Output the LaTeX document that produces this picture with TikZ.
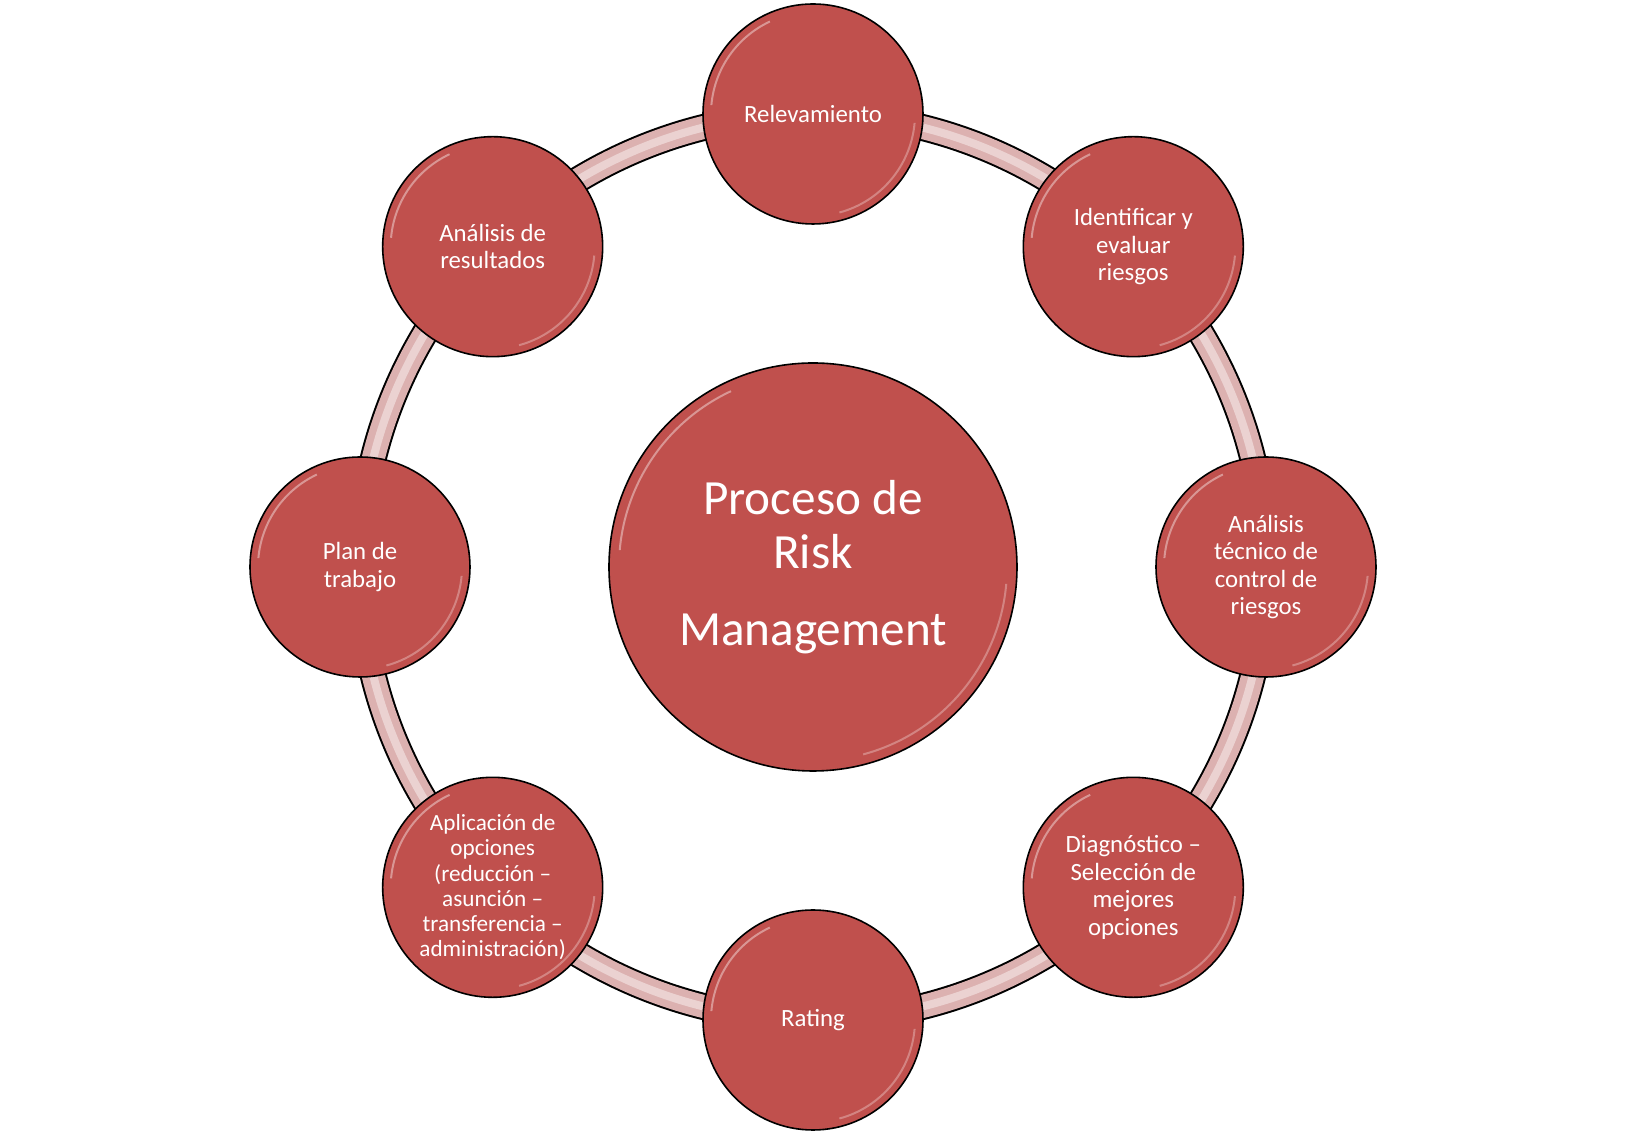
\documentclass[tikz,border=0pt]{standalone}
\usepackage{fontspec}
\setmainfont{Carlito}
\usetikzlibrary{positioning}
\pgfdeclarelayer{background}
\pgfsetlayers{background,main}
\definecolor{riskred}{HTML}{C0504D}
\definecolor{ringpink}{HTML}{DCB1B0}
\definecolor{ringlight}{HTML}{EBD2D1}

\begin{document}
\begin{tikzpicture}[x=0.5pt,y=0.5pt,%
	gloss/.style={path picture={%
		\draw[white,opacity=.4,line width=1pt] ([shift={(115:#1)}]path picture bounding box.center) arc[start angle=115,end angle=175,radius=#1];
		\draw[white,opacity=.3,line width=1pt] ([shift={(-75:#1)}]path picture bounding box.center) arc[start angle=-75,end angle=-5,radius=#1];}},
	stage/.style={circle,draw=black,line width=0.8pt,fill=riskred,text=white,minimum size=110pt,inner sep=0pt,align=center,gloss=51pt},
	core/.style={stage,minimum size=204pt,gloss=97pt,font=\fontsize{24.6}{27.2}\selectfont},
	ring/.style={line width=13.5pt,black},
	ringfill/.style={line width=11.5pt,ringpink},
	ringglow/.style={line width=4pt,ringlight}]

	\node[core] (core) at (0,0) {Proceso de\\Risk\\[11pt]Management};

	\foreach \fs/\lh/\txt [count=\i] in {%
	   12.4/13.8/Relevamiento,%
	   12.4/13.8/{Identificar y\\evaluar\\riesgos},%
	   12.4/13.8/{Análisis\\técnico de\\control de\\riesgos},%
	   12.4/13.8/{Diagnóstico --\\Selección de\\mejores\\opciones},%
	   12.4/13.8/Rating,%
	   11.6/12.6/{Aplicación de\\opciones\\(reducción --\\asunción --\\transferencia --\\administración)},%
	   12.4/13.8/{Plan de\\trabajo},%
	   12.4/13.8/{Análisis de\\resultados}%
	   } { \node[stage,font=\fontsize{\fs}{\lh}\selectfont] (s\i) at ({135-45*\i}:453) {\txt}; }

	% ring behind the stages
	\begin{pgfonlayer}{background}
	\foreach \a/\b in {1/2,2/3,3/4,4/5,5/6,6/7,7/8,8/1} {
	   \draw[ring] (s\a.center) to[bend left=22.5,looseness=0.885] (s\b.center);
	   \draw[ringfill] (s\a.center) to[bend left=22.5,looseness=0.885] (s\b.center);
	   \draw[ringglow] (s\a.center) to[bend left=22.5,looseness=0.885] (s\b.center);
	}
	\end{pgfonlayer}

	\pgfresetboundingbox
	\useasboundingbox (-813,-576) rectangle (814,567);
\end{tikzpicture}
\end{document}
